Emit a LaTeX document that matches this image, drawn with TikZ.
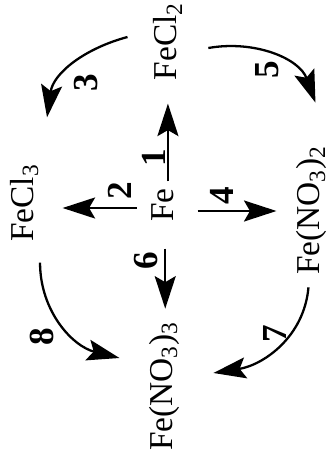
\documentclass[tikz,border=0pt]{standalone}
\usepackage{fontspec}
\setmainfont{Liberation Serif}
\usetikzlibrary{arrows.meta,calc}

\begin{document}
\begin{tikzpicture}[]
    \tikzstyle{every node}=[font=\fontsize{19}{22}\selectfont]
    \tikzstyle{chem}=[rotate=90, inner sep=0pt, anchor=base]
    \tikzstyle{num}=[rotate=90, inner sep=0pt, font=\fontsize{20}{22}\selectfont\bfseries]
    \tikzstyle{arr}=[-{Stealth[length=6.5mm,width=4.2mm,inset=1.2mm]}, line width=1.3pt]

      \useasboundingbox (0,0) rectangle (6.7,9.2);

      % compounds
      \node[chem] (Fe)    at (3.46, 5.10) {Fe};
      \node[chem] (FeCl2) at (3.54, 8.37) {FeCl\textsubscript{2}};
      \node[chem] (FeCl3) at (0.66, 5.14) {FeCl\textsubscript{3}};
      \node[chem] (FeNOb) at (6.40, 4.99) {Fe(NO\textsubscript{3})\textsubscript{2}};
      \node[chem] (FeNOc) at (3.44, 1.47) {Fe(NO\textsubscript{3})\textsubscript{3}};

      % straight arrows out of Fe
      \draw[arr, shorten <=0.13cm, shorten >=0.46cm] (Fe.east -| FeCl2) -- (FeCl2.west);
      \draw[arr, shorten <=0.28cm, shorten >=0.48cm]
          ($(Fe.north)+(0,-0.06)$) -- ($(Fe.north -| FeCl3.south)+(0,-0.06)$);
      \draw[arr, shorten <=0.48cm, shorten >=0.40cm]
          ($(Fe.south)+(0,-0.12)$) -- ($(Fe.south -| FeNOb.north)+(0,-0.12)$);
      \draw[arr, shorten <=0.53cm, shorten >=0.26cm]
          ($(Fe.west)+(0.06,0)$) -- ($(Fe.west |- FeNOc.east)+(0.06,0)$);

      % curved arrows
      \draw[arr] ($(FeCl2.north)+(-0.52,0.09)$) to[out=195,in=82] ($(FeCl3.east)+(0.46,0.93)$);
      \draw[arr] ($(FeCl2.south)+(0.52,-0.13)$) to[out=10,in=110] ($(FeNOb.east)+(0.07,0.86)$);
      \draw[arr] ($(FeNOb.west)+(-0.07,-0.24)$) to[out=265,in=9] ($(FeNOc.south)+(0.68,0.27)$);
      \draw[arr] ($(FeCl3.west)+(0.32,-0.41)$) to[out=270,in=166] ($(FeNOc.north)+(-0.58,0.57)$);

      % reaction numbers
      \node[num] (n1) at (3.08, 6.04) {1};
      \node[num] (n2) at (2.40, 5.38) {2};
      \node[num] (n3) at (1.72, 7.54) {3};
      \node[num] (n4) at (4.44, 5.28) {4};
      \node[num] (n5) at (5.34, 7.80) {5};
      \node[num] (n6) at (2.92, 3.98) {6};
      \node[num] (n7) at (5.50, 2.52) {7};
      \node[num] (n8) at (0.84, 2.46) {8};

\end{tikzpicture}
\end{document}
